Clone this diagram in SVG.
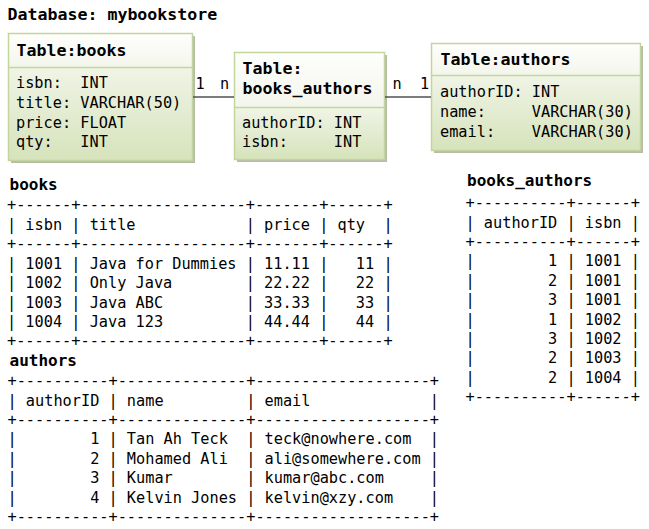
<svg xmlns="http://www.w3.org/2000/svg" width="649" height="529" viewBox="0 0 649 529">
<style>
  text { white-space: pre; }
  .mono { font-family: "DejaVu Sans Mono", "Liberation Mono", monospace; font-size: 15.25px; fill: #000; }
  .bold { font-family: "DejaVu Sans Mono", "Liberation Mono", monospace; font-size: 16.6px; font-weight: bold; fill: #000; }
  .hdg { font-family: "DejaVu Sans Mono", "Liberation Mono", monospace; font-size: 16px; font-weight: bold; fill: #000; }
  .box { stroke: #c3d59d; stroke-width: 1.5; }
  .shadow { fill: #a4ab96; opacity: 0.8; }
  .sep { stroke: #c3d59d; stroke-width: 1.5; }
  .conn { stroke: #505050; stroke-width: 1.5; fill: none; }
</style>
<defs>
  <linearGradient id="gHead" x1="0" y1="0" x2="0" y2="1">
    <stop offset="0" stop-color="#fefefc"/>
    <stop offset="1" stop-color="#f3f6ec"/>
  </linearGradient>
  <linearGradient id="gBody" x1="0" y1="0" x2="0" y2="1">
    <stop offset="0" stop-color="#f0f4e6"/>
    <stop offset="1" stop-color="#d6e3bb"/>
  </linearGradient>
</defs>
<rect width="649" height="529" fill="#ffffff"/>

<text id="title" class="bold" x="7.5" y="20" xml:space="preserve">Database: mybookstore</text>

<g id="node-books">
  <rect class="shadow" x="11" y="36" width="184" height="127"/>
  <rect x="8.5" y="33.5" width="184" height="34" fill="url(#gHead)"/>
  <rect x="8.5" y="67.5" width="184" height="93" fill="url(#gBody)"/>
  <rect class="box" x="8.5" y="33.5" width="184" height="127" fill="none"/>
  <line class="sep" x1="8.5" y1="67.5" x2="192.5" y2="67.5"/>
  <text class="bold" x="16.5" y="56" xml:space="preserve">Table:books</text>
  <text class="mono" x="16" y="88" xml:space="preserve">isbn:  INT</text>
  <text class="mono" x="16" y="108" xml:space="preserve">title: VARCHAR(50)</text>
  <text class="mono" x="16" y="127.5" xml:space="preserve">price: FLOAT</text>
  <text class="mono" x="16" y="147" xml:space="preserve">qty:   INT</text>
</g>

<g id="node-books_authors">
  <rect class="shadow" x="237" y="55" width="150" height="107"/>
  <rect x="234.5" y="52.5" width="150" height="55" fill="url(#gHead)"/>
  <rect x="234.5" y="107.5" width="150" height="52" fill="url(#gBody)"/>
  <rect class="box" x="234.5" y="52.5" width="150" height="107" fill="none"/>
  <line class="sep" x1="234.5" y1="107.5" x2="384.5" y2="107.5"/>
  <text class="bold" x="242.5" y="73.5" xml:space="preserve">Table:</text>
  <text class="bold" x="242.5" y="93.5" xml:space="preserve">books_authors</text>
  <text class="mono" x="242" y="127.5" xml:space="preserve">authorID: INT</text>
  <text class="mono" x="242" y="147" xml:space="preserve">isbn:     INT</text>
</g>

<g id="node-authors">
  <rect class="shadow" x="434" y="46" width="209" height="107"/>
  <rect x="431.5" y="43.5" width="209" height="32" fill="url(#gHead)"/>
  <rect x="431.5" y="75.5" width="209" height="75" fill="url(#gBody)"/>
  <rect class="box" x="431.5" y="43.5" width="209" height="107" fill="none"/>
  <line class="sep" x1="431.5" y1="75.5" x2="640.5" y2="75.5"/>
  <text class="bold" x="440.5" y="64.5" xml:space="preserve">Table:authors</text>
  <text class="mono" x="440" y="97" xml:space="preserve">authorID: INT</text>
  <text class="mono" x="440" y="117" xml:space="preserve">name:     VARCHAR(30)</text>
  <text class="mono" x="440" y="136.5" xml:space="preserve">email:    VARCHAR(30)</text>
</g>

<g id="connectors">
  <line class="conn" x1="193" y1="97" x2="234" y2="97"/>
  <line class="conn" x1="385" y1="97" x2="431" y2="97"/>
  <text class="mono" x="195.5" y="89" xml:space="preserve">1</text>
  <text class="mono" x="220" y="89" xml:space="preserve">n</text>
  <text class="mono" x="392.5" y="88.5" xml:space="preserve">n</text>
  <text class="mono" x="420" y="88.5" xml:space="preserve">1</text>
</g>

<g id="table-books">
  <text class="hdg" x="9.5" y="190" xml:space="preserve">books</text>
  <g class="mono">
    <text x="7" y="209.8" textLength="385.6" xml:space="preserve">+------+------------------+-------+------+</text>
    <text x="7" y="230" textLength="385.6" xml:space="preserve">| isbn | title            | price | qty  |</text>
    <text x="7" y="249.4" textLength="385.6" xml:space="preserve">+------+------------------+-------+------+</text>
    <text x="7" y="268.8" textLength="385.6" xml:space="preserve">| 1001 | Java for Dummies | 11.11 |   11 |</text>
    <text x="7" y="288.2" textLength="385.6" xml:space="preserve">| 1002 | Only Java        | 22.22 |   22 |</text>
    <text x="7" y="307.6" textLength="385.6" xml:space="preserve">| 1003 | Java ABC         | 33.33 |   33 |</text>
    <text x="7" y="327" textLength="385.6" xml:space="preserve">| 1004 | Java 123         | 44.44 |   44 |</text>
    <text x="7" y="346.4" textLength="385.6" xml:space="preserve">+------+------------------+-------+------+</text>
  </g>
</g>

<g id="table-authors">
  <text class="hdg" x="9.5" y="365.5" xml:space="preserve">authors</text>
  <g class="mono">
    <text x="7.5" y="386.1" textLength="431.5" xml:space="preserve">+----------+--------------+-------------------+</text>
    <text x="7.5" y="405.5" textLength="431.5" xml:space="preserve">| authorID | name         | email             |</text>
    <text x="7.5" y="424.9" textLength="431.5" xml:space="preserve">+----------+--------------+-------------------+</text>
    <text x="7.5" y="444.3" textLength="431.5" xml:space="preserve">|        1 | Tan Ah Teck  | teck@nowhere.com  |</text>
    <text x="7.5" y="463.7" textLength="431.5" xml:space="preserve">|        2 | Mohamed Ali  | ali@somewhere.com |</text>
    <text x="7.5" y="483.1" textLength="431.5" xml:space="preserve">|        3 | Kumar        | kumar@abc.com     |</text>
    <text x="7.5" y="502.5" textLength="431.5" xml:space="preserve">|        4 | Kelvin Jones | kelvin@xzy.com    |</text>
    <text x="7.5" y="521.9" textLength="431.5" xml:space="preserve">+----------+--------------+-------------------+</text>
  </g>
</g>

<g id="table-books_authors">
  <text class="hdg" x="467" y="186" xml:space="preserve">books_authors</text>
  <g class="mono">
    <text x="465.5" y="208.1" textLength="174.4" xml:space="preserve">+----------+------+</text>
    <text x="465.5" y="227.5" textLength="174.4" xml:space="preserve">| authorID | isbn |</text>
    <text x="465.5" y="246.9" textLength="174.4" xml:space="preserve">+----------+------+</text>
    <text x="465.5" y="266.3" textLength="174.4" xml:space="preserve">|        1 | 1001 |</text>
    <text x="465.5" y="285.7" textLength="174.4" xml:space="preserve">|        2 | 1001 |</text>
    <text x="465.5" y="305.1" textLength="174.4" xml:space="preserve">|        3 | 1001 |</text>
    <text x="465.5" y="324.5" textLength="174.4" xml:space="preserve">|        1 | 1002 |</text>
    <text x="465.5" y="343.9" textLength="174.4" xml:space="preserve">|        3 | 1002 |</text>
    <text x="465.5" y="363.3" textLength="174.4" xml:space="preserve">|        2 | 1003 |</text>
    <text x="465.5" y="382.7" textLength="174.4" xml:space="preserve">|        2 | 1004 |</text>
    <text x="465.5" y="402.1" textLength="174.4" xml:space="preserve">+----------+------+</text>
  </g>
</g>
</svg>
